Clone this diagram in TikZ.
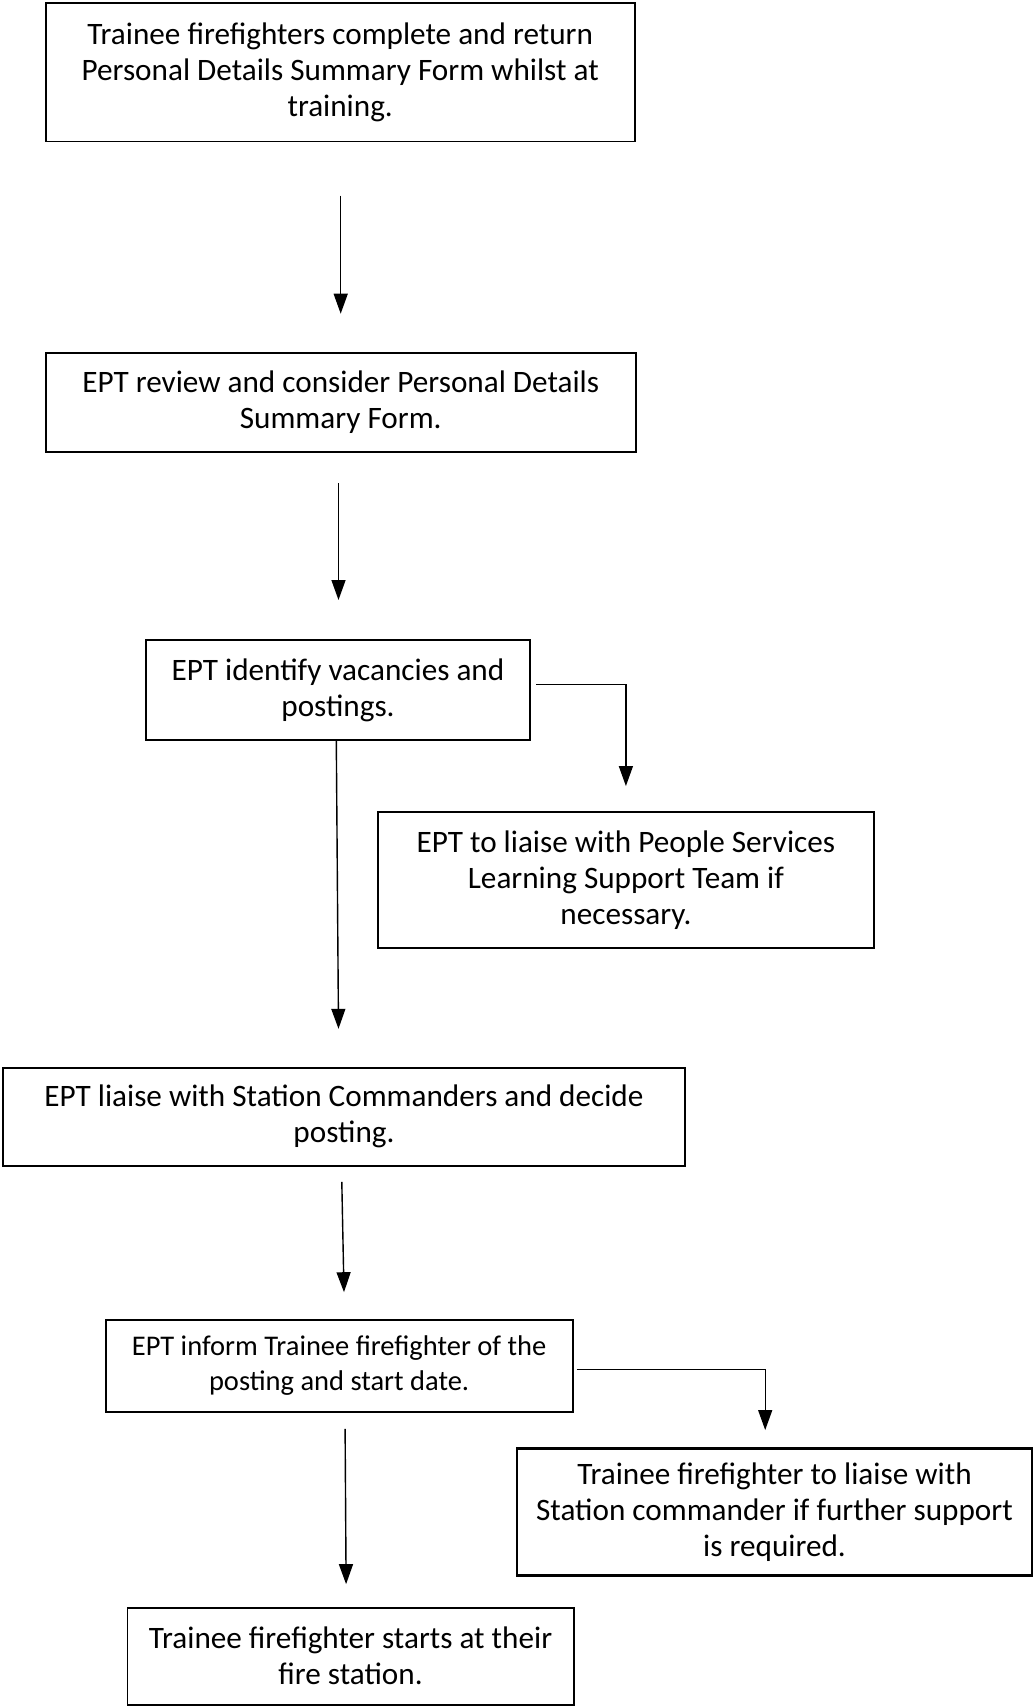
\documentclass[tikz,border=0pt]{standalone}
\usepackage{fontspec}
\setmainfont{Carlito}
\usetikzlibrary{arrows.meta,calc}
\begin{document}
\begin{tikzpicture}[x=1pt,y=-1pt,
  box/.style={draw,line width=1.8pt,rectangle,align=center,inner sep=0pt,font=\fontsize{31.2}{36}\selectfont},
  smallbox/.style={box,font=\fontsize{28.5}{35}\selectfont},
  arr/.style={line width=1.4pt,-{Triangle[length=20pt,width=14pt]}}]
\useasboundingbox (0,0) rectangle (1033,1707);
\node[box,minimum width=588.9pt,minimum height=138.2pt] (b1) at (340.2,72.4)
  {Trainee firefighters complete and return\\Personal Details Summary Form whilst at\\training.};
\node[box,minimum width=590pt,minimum height=99pt] (b2) at (340.7,402.2)
  {EPT review and consider Personal Details\\Summary Form.};
\node[box,minimum width=384.2pt,minimum height=100.2pt] (b3) at (338,690.1)
  {EPT identify vacancies and\\postings.};
\node[box,minimum width=496.4pt,minimum height=136.1pt] (b4) at (625.9,880)
  {EPT to liaise with People Services\\Learning Support Team if\\necessary.};
\node[box,minimum width=681.4pt,minimum height=98pt] (b5) at (344,1116.8)
  {EPT liaise with Station Commanders and decide\\posting.};
\node[smallbox,minimum width=467pt,minimum height=91.4pt] (b6) at (339.1,1366)
  {EPT inform Trainee firefighter of the\\posting and start date.};
\node[box,line width=2.8pt,minimum width=514.9pt,minimum height=126.3pt] (b7) at (774.5,1512)
  {Trainee firefighter to liaise with\\Station commander if further support\\is required.};
\node[box,minimum width=446.2pt,minimum height=96.9pt] (b8) at (350.5,1656.2)
  {Trainee firefighter starts at their\\fire station.};
\draw[arr] ($(b1.south)+(0.5,53.3)$) -- ($(b2.north)+(0,-38.1)$);
\draw[arr] ($(b2.south)+(-2.2,30.5)$) -- ($(b3.north)+(0.5,-39.1)$);
\draw[arr] ($(b3.east)+(5.4,-5.4)$) -| ($(b4.north)+(0,-25)$);
\draw[arr] ($(b3.south)+(-1.7,0)$) -- ($(b5.north)+(-5.5,-38.1)$);
\draw[arr] ($(b5.south)+(-2.2,15.2)$) -- ($(b6.north)+(4.9,-27.2)$);
\draw[arr] ($(b6.east)+(3.2,3.3)$) -| ($(b7.north)+(-9.3,-17.4)$);
\draw[arr] ($(b6.south)+(6,16.3)$) -- ($(b8.north)+(-4.4,-22.7)$);
\end{tikzpicture}
\end{document}
